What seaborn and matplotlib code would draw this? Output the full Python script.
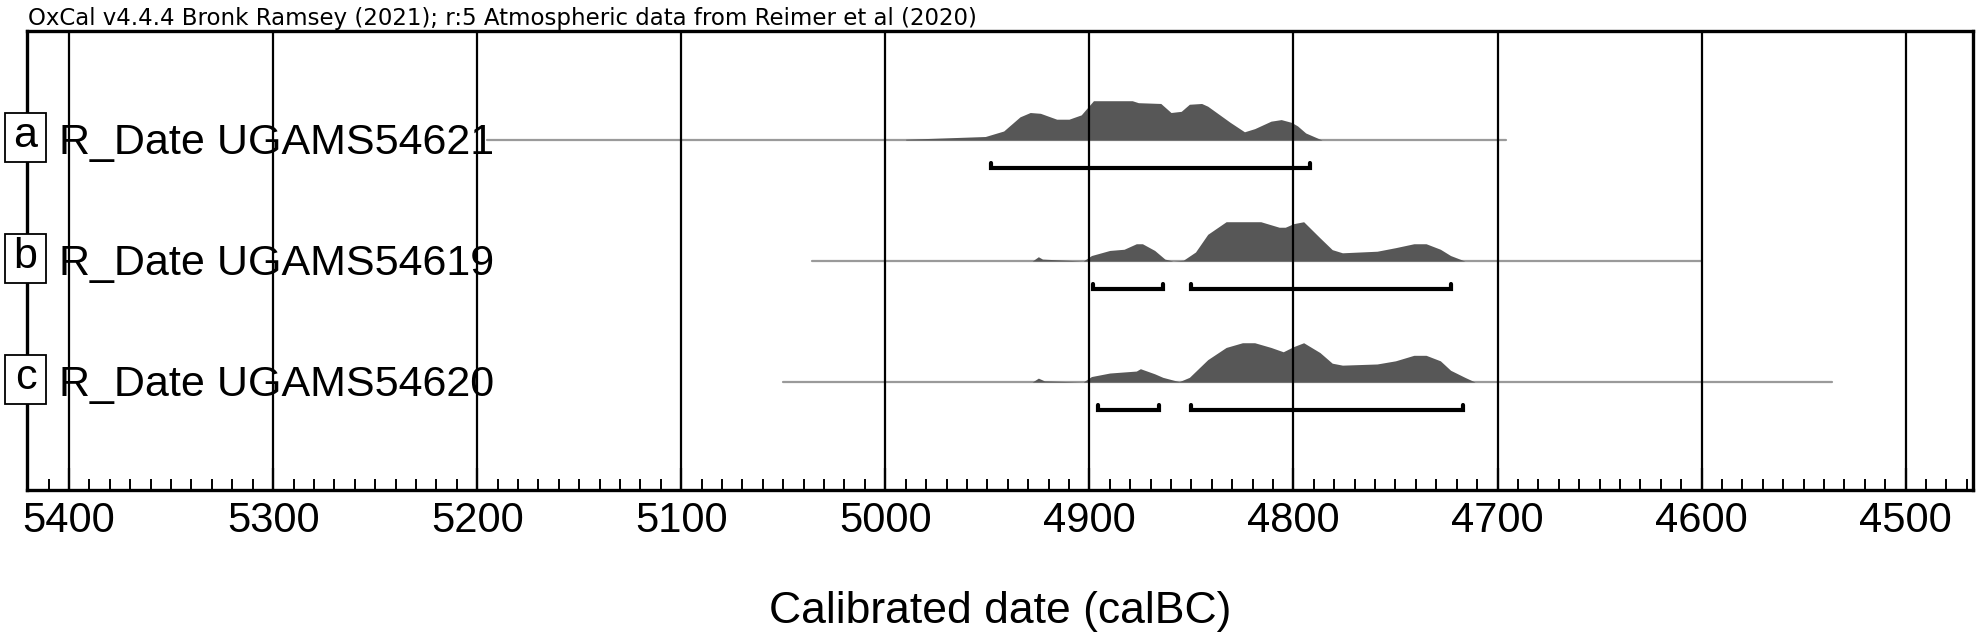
import numpy as np
import pandas as pd
import seaborn as sns
import matplotlib.pyplot as plt
from matplotlib.patches import Rectangle
import matplotlib.transforms as mtransforms

# --- data (years calBC, relative probability) ---
names = ["R_Date UGAMS54621", "R_Date UGAMS54619", "R_Date UGAMS54620"]
letters = ["a", "b", "c"]

yrs_a = [4990, 4951, 4942, 4934, 4929, 4924, 4916, 4910, 4904, 4901, 4898, 4879, 4876, 4865,
         4860, 4855, 4851, 4845, 4842, 4831, 4824, 4819, 4811, 4806, 4801, 4798, 4794, 4786]
prob_a = [0.02, 0.09, 0.23, 0.59, 0.70, 0.68, 0.53, 0.53, 0.64, 0.82, 1.0, 1.0, 0.95, 0.93,
          0.70, 0.73, 0.91, 0.93, 0.86, 0.45, 0.21, 0.29, 0.48, 0.52, 0.45, 0.36, 0.18, 0.0]

yrs_b = [4928, 4925, 4923, 4903, 4899, 4890, 4883, 4877, 4874, 4868, 4863, 4859, 4854, 4848,
         4842, 4833, 4816, 4807, 4804, 4800, 4795, 4787, 4781, 4776, 4759, 4750, 4741, 4735,
         4728, 4723, 4716]
prob_b = [0.0, 0.11, 0.05, 0.0, 0.14, 0.27, 0.30, 0.44, 0.44, 0.27, 0.05, 0.0, 0.02, 0.23,
          0.68, 1.0, 1.0, 0.86, 0.86, 0.95, 1.0, 0.59, 0.29, 0.21, 0.25, 0.34, 0.44, 0.44,
          0.30, 0.14, 0.0]

yrs_c = [4928, 4925, 4922, 4903, 4899, 4890, 4877, 4875, 4868, 4864, 4856, 4851, 4842, 4833,
         4825, 4819, 4811, 4805, 4800, 4795, 4787, 4781, 4776, 4759, 4750, 4741, 4735, 4728,
         4723, 4716, 4711]
prob_c = [0.0, 0.10, 0.03, 0.0, 0.14, 0.23, 0.28, 0.34, 0.21, 0.12, 0.01, 0.12, 0.57, 0.88,
          1.0, 1.0, 0.88, 0.77, 0.90, 1.0, 0.75, 0.48, 0.43, 0.46, 0.54, 0.68, 0.68, 0.54,
          0.30, 0.12, 0.0]

# thin baseline extent of each calibrated date
line_start = [5195, 5036, 5050]
line_end = [4696, 4600, 4536]

# 95.4% ranges
ranges_a = [(4948, 4792)]
ranges_b = [(4898, 4864), (4850, 4723)]
ranges_c = [(4896, 4866), (4850, 4717)]

title_txt = "OxCal v4.4.4 Bronk Ramsey (2021); r:5 Atmospheric data from Reimer et al (2020)"
major_ticks = [5400, 5300, 5200, 5100, 5000, 4900, 4800, 4700, 4600, 4500]

years = [yrs_a, yrs_b, yrs_c]
probs = [prob_a, prob_b, prob_c]
ranges = [ranges_a, ranges_b, ranges_c]

sns.set_style("white")
plt.rcParams['font.family'] = ['Liberation Sans', 'DejaVu Sans']
plt.rcParams['text.color'] = 'black'
plt.rcParams['axes.labelcolor'] = 'black'
plt.rcParams['xtick.color'] = 'black'

fig = plt.figure(figsize=(19.8, 6.33), dpi=100)
ax = fig.add_axes([0.01364, 0.2259, 0.98282, 0.7251])

peak = 0.325   # height of a full-probability peak in row units
for i in range(3):
    row = i + 1
    df = pd.DataFrame({"year": years[i], "prob": probs[i]})
    ax.fill_between(df["year"], row, row - df["prob"] * peak, color="#575757", lw=0, zorder=2)
    sns.lineplot(x=[line_start[i], line_end[i]], y=[row, row], ax=ax, color="#9a9a9a",
                 lw=1.6, zorder=1, legend=False)
    for s, e in ranges[i]:
        yb = row + 0.231
        ax.plot([s, s, e, e], [yb - 0.045, yb, yb, yb - 0.045], color="black", lw=3.0,
                solid_joinstyle="miter", zorder=3)

trans = mtransforms.blended_transform_factory(ax.transAxes, ax.transData)
for i in range(3):
    row = i + 1
    ax.text(0.0164, row + 0.116, names[i], transform=trans, fontsize=31, va="baseline",
            ha="left", zorder=5)
    ax.add_patch(Rectangle((-0.0113, row - 0.223), 0.0211, 0.405, transform=trans,
                           fc="white", ec="black", lw=1.3, clip_on=False, zorder=6))
    ax.text(-0.0008, row - 0.03, letters[i], transform=trans, fontsize=31, va="center",
            ha="center", zorder=7, clip_on=False)

for t in major_ticks:
    ax.axvline(t, color="black", lw=1.6, zorder=4)

ax.set_xlim(5420.6, 4467)
ax.set_ylim(3.892, 0.099)
ax.set_xticks(major_ticks)
ax.set_xticklabels([str(t) for t in major_ticks])
ax.set_xticks(np.arange(4470, 5421, 10), minor=True)
ax.set_yticks([])
ax.tick_params(axis="x", which="major", direction="in", length=16, width=1.6, pad=8,
               labelsize=30, bottom=True, top=False)
ax.tick_params(axis="x", which="minor", direction="in", length=8, width=1.4,
               bottom=True, top=False)
for sp in ax.spines.values():
    sp.set_visible(True)
    sp.set_color("black")
    sp.set_linewidth(2.4)

ax.set_xlabel("Calibrated date (calBC)", fontsize=32, labelpad=36)
fig.text(0.01414, 0.9605, title_txt, fontsize=16.5, family="DejaVu Sans", va="baseline")

plt.savefig("out.png", dpi=100)
